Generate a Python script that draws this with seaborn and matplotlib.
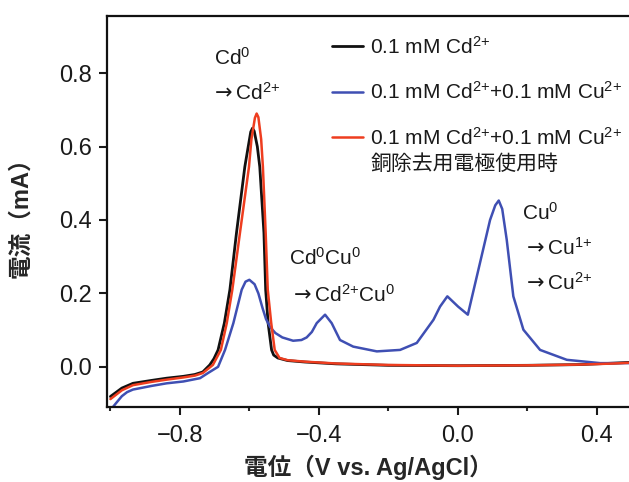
import matplotlib
matplotlib.use("Agg")
import matplotlib.pyplot as plt
import numpy as np
import seaborn as sns
from matplotlib.legend_handler import HandlerLine2D

# potential (V vs. Ag/AgCl) and current (mA)
cd_v = [-1.000, -0.967, -0.935, -0.881, -0.838, -0.790, -0.757, -0.734, -0.714, -0.702,
        -0.690, -0.672, -0.656, -0.637, -0.613, -0.605, -0.596, -0.591, -0.586, -0.577,
        -0.570, -0.558, -0.553, -0.546, -0.536, -0.530, -0.518, -0.490, -0.440, -0.350,
        -0.200, 0.000, 0.200, 0.350, 0.450, 0.493]
cd_i = [-0.081, -0.058, -0.045, -0.037, -0.031, -0.026, -0.021, -0.014, 0.005, 0.022,
        0.046, 0.119, 0.210, 0.365, 0.545, 0.590, 0.640, 0.650, 0.642, 0.600,
        0.545, 0.365, 0.210, 0.119, 0.046, 0.032, 0.024, 0.017, 0.013, 0.008,
        0.004, 0.003, 0.004, 0.006, 0.010, 0.012]

mix_v = [-1.000, -0.982, -0.967, -0.952, -0.935, -0.881, -0.838, -0.790, -0.742, -0.719,
         -0.690, -0.670, -0.646, -0.622, -0.611, -0.600, -0.585, -0.574, -0.562, -0.552,
         -0.540, -0.525, -0.505, -0.474, -0.450, -0.435, -0.420, -0.406, -0.382, -0.363,
         -0.339, -0.301, -0.233, -0.166, -0.118, -0.070, -0.051, -0.030, 0.001, 0.029,
         0.064, 0.093, 0.108, 0.118, 0.128, 0.141, 0.160, 0.189, 0.237, 0.314, 0.410,
         0.493]
mix_i = [-0.118, -0.097, -0.080, -0.069, -0.062, -0.052, -0.045, -0.040, -0.031, -0.017,
         0.000, 0.046, 0.119, 0.210, 0.232, 0.237, 0.225, 0.200, 0.160, 0.130,
         0.108, 0.092, 0.080, 0.071, 0.073, 0.080, 0.095, 0.119, 0.142, 0.119,
         0.073, 0.055, 0.042, 0.046, 0.065, 0.128, 0.164, 0.192, 0.164, 0.142,
         0.283, 0.400, 0.440, 0.453, 0.430, 0.346, 0.192, 0.101, 0.046, 0.019, 0.010,
         0.010]

rm_v = [-1.000, -0.967, -0.935, -0.881, -0.838, -0.790, -0.757, -0.734, -0.705, -0.682,
        -0.665, -0.649, -0.627, -0.601, -0.594, -0.584, -0.579, -0.574, -0.566, -0.561,
        -0.553, -0.547, -0.537, -0.527, -0.513, -0.490, -0.440, -0.350, -0.200, 0.000,
        0.200, 0.350, 0.450, 0.493]
rm_i = [-0.088, -0.064, -0.050, -0.041, -0.035, -0.029, -0.024, -0.017, 0.005, 0.046,
        0.119, 0.210, 0.365, 0.545, 0.620, 0.678, 0.690, 0.680, 0.620, 0.545,
        0.365, 0.210, 0.119, 0.046, 0.024, 0.018, 0.014, 0.009, 0.005, 0.003,
        0.004, 0.006, 0.009, 0.011]

lab_cd = "0.1 mM Cd$^{2{+}}$"
lab_mix = "0.1 mM Cd$^{2{+}}$+0.1 mM Cu$^{2{+}}$"
lab_rm = lab_mix + "\n銅除去用電極使用時"

# peak assignments: (potential, current, text)
arrow = r"$\mathrm{\rightarrow}$"
notes = [
    (-0.702, 0.822, "Cd$^0$"),
    (-0.714, 0.727, arrow + "Cd$^{2{+}}$"),
    (-0.486, 0.278, "Cd$^0$Cu$^0$"),
    (-0.486, 0.178, arrow + "Cd$^{2{+}}$Cu$^0$"),
    (0.184, 0.400, "Cu$^0$"),
    (0.184, 0.305, arrow + "Cu$^{1{+}}$"),
    (0.184, 0.210, arrow + "Cu$^{2{+}}$"),
]


class FirstLineHandler(HandlerLine2D):
    # put the handle next to the first line of a two-line label
    def create_artists(self, legend, orig_handle, xdescent, ydescent,
                       width, height, fontsize, trans):
        artists = super().create_artists(legend, orig_handle, xdescent, ydescent,
                                         width, height, fontsize, trans)
        for a in artists:
            a.set_ydata(np.asarray(a.get_ydata()) + 0.65 * fontsize)
        return artists


sns.set_style("ticks")
plt.rcParams["font.family"] = ["Liberation Sans", "Noto Sans CJK JP"]
plt.rcParams["mathtext.default"] = "regular"
plt.rcParams["text.color"] = "#1a1a1a"

fig, ax = plt.subplots(figsize=(6.29, 4.82), dpi=100)
fig.subplots_adjust(left=0.170, right=1.0, bottom=0.156, top=0.967)

sns.lineplot(x=cd_v, y=cd_i, sort=False, color="#111111", lw=2.0, label=lab_cd, ax=ax)
sns.lineplot(x=mix_v, y=mix_i, sort=False, color="#3f4fb3", lw=1.8, label=lab_mix, ax=ax)
sns.lineplot(x=rm_v, y=rm_i, sort=False, color="#ee3d1f", lw=1.8, label=lab_rm, ax=ax)
red_line = ax.lines[-1]

ax.set_xlim(-1.010, 0.493)
ax.set_ylim(-0.109, 0.956)
ax.set_xticks([-0.8, -0.4, 0.0, 0.4])
ax.set_xticks([-1.0, -0.6, -0.2, 0.2], minor=True)
ax.set_yticks([0.0, 0.2, 0.4, 0.6, 0.8])
ax.tick_params(which="major", length=6, width=1.5, labelsize=17, colors="#1a1a1a")
ax.tick_params(axis="x", which="major", pad=7)
ax.tick_params(axis="y", which="major", pad=5)
ax.tick_params(axis="x", which="minor", length=3, width=1.5)
ax.spines["right"].set_visible(False)
for s in ["left", "bottom", "top"]:
    ax.spines[s].set_linewidth(1.6)
    ax.spines[s].set_color("#111111")

ax.set_xlabel("電位（V vs. Ag/AgCl）", fontsize=17, fontweight="bold", labelpad=6)
ax.set_ylabel("電流（mA）", fontsize=17, fontweight="bold", labelpad=19)

for v, i, t in notes:
    ax.text(v, i, t, fontsize=15, ha="left", va="baseline")

leg = ax.legend(handler_map={red_line: FirstLineHandler()}, loc="upper left",
                bbox_to_anchor=(0.431, 0.950), frameon=False, fontsize=15,
                handlelength=1.5, handletextpad=0.35, labelspacing=1.15,
                borderpad=0, borderaxespad=0)
leg.get_texts()[-1].set_linespacing(1.35)

plt.savefig("out.png", dpi=100)
